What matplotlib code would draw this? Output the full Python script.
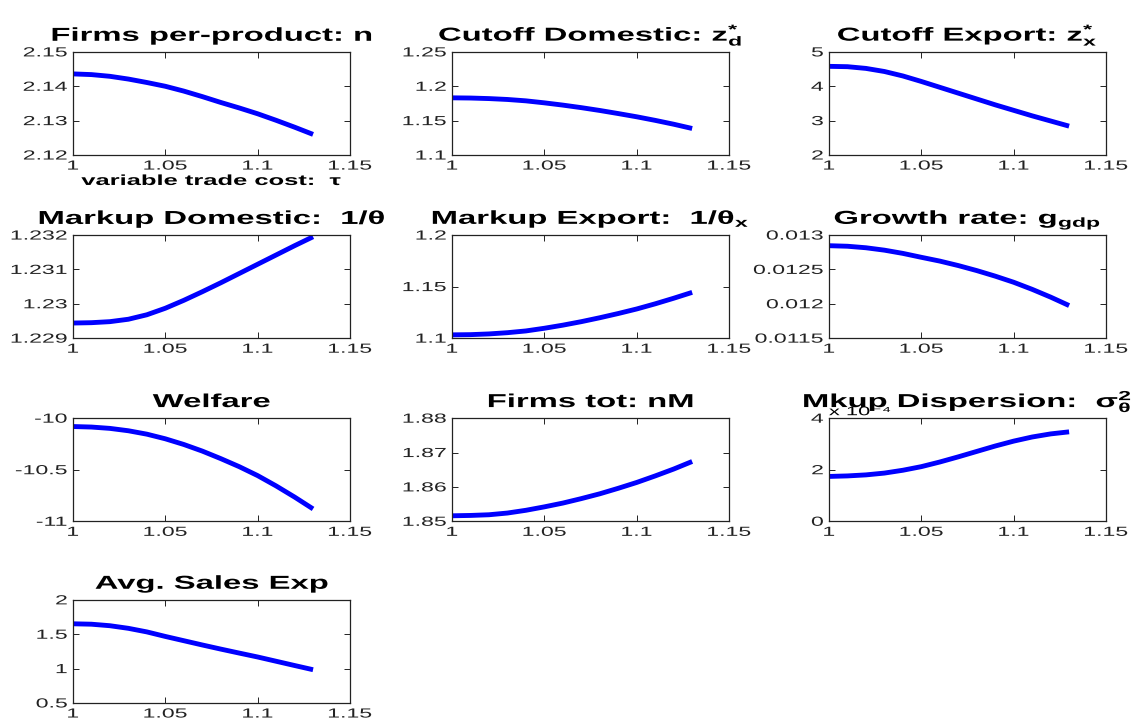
import matplotlib
matplotlib.use("Agg")
import matplotlib.pyplot as plt
from matplotlib import patheffects
from matplotlib.transforms import Affine2D
from matplotlib.ticker import FuncFormatter

plt.rcParams['font.family'] = ['Liberation Sans', 'DejaVu Sans']
plt.rcParams['mathtext.fontset'] = 'custom'
plt.rcParams['mathtext.rm'] = 'Liberation Sans:bold'
plt.rcParams['mathtext.it'] = 'Liberation Sans:bold'
plt.rcParams['mathtext.bf'] = 'Liberation Sans:bold'
plt.rcParams['mathtext.default'] = 'rm'

# variable trade cost
tau = [1.00, 1.01, 1.02, 1.03, 1.04, 1.05, 1.06, 1.07, 1.08, 1.09, 1.10, 1.11, 1.12, 1.13]

n_firms = [2.1436, 2.1434, 2.1429, 2.1421, 2.1411, 2.1400, 2.1386, 2.1370, 2.1353, 2.1337,
           2.1320, 2.1301, 2.1281, 2.1260]
cutoff_dom = [1.1832, 1.1829, 1.1821, 1.1808, 1.1788, 1.1759, 1.1726, 1.1689, 1.1648, 1.1603,
              1.1556, 1.1504, 1.1448, 1.1386]
cutoff_exp = [4.58, 4.57, 4.52, 4.43, 4.30, 4.14, 3.97, 3.80, 3.63, 3.46, 3.30, 3.14, 2.99, 2.84]
markup_dom = [1.22944, 1.22945, 1.22948, 1.22955, 1.22968, 1.22987, 1.23010, 1.23035, 1.23061,
              1.23088, 1.23115, 1.23142, 1.23169, 1.23195]
markup_exp = [1.1032, 1.1034, 1.1041, 1.1053, 1.1070, 1.1096, 1.1126, 1.1160, 1.1198, 1.1239,
              1.1283, 1.1333, 1.1387, 1.1444]
growth = [0.012845, 0.012837, 0.012815, 0.012780, 0.012733, 0.012676, 0.012621, 0.012556,
          0.012483, 0.012402, 0.012313, 0.012210, 0.012097, 0.011974]
welfare = [-10.081, -10.086, -10.099, -10.122, -10.155, -10.200, -10.255, -10.319, -10.392,
           -10.470, -10.557, -10.657, -10.765, -10.880]
firms_tot = [1.8516, 1.8517, 1.8519, 1.8524, 1.8532, 1.8542, 1.8553, 1.8566, 1.8580, 1.8596,
             1.8613, 1.8632, 1.8652, 1.8674]
mkup_disp = [1.74e-4, 1.76e-4, 1.80e-4, 1.87e-4, 1.98e-4, 2.12e-4, 2.30e-4, 2.50e-4, 2.71e-4,
             2.92e-4, 3.11e-4, 3.27e-4, 3.39e-4, 3.47e-4]
sales_exp = [1.652, 1.646, 1.624, 1.586, 1.534, 1.468, 1.406, 1.344, 1.284, 1.226, 1.169,
             1.107, 1.045, 0.984]

x_ticks = [1, 1.05, 1.1, 1.15]
x_labels = ["1", "1.05", "1.1", "1.15"]

SX = 1.75  # the original figure is stretched sideways


class Stretch(patheffects.AbstractPathEffect):
    """Widen glyphs horizontally about a fixed anchor."""

    def __init__(self, sx=SX, anchor="center"):
        super().__init__()
        self.sx = sx
        self.anchor = anchor

    def draw_path(self, renderer, gc, tpath, affine, rgbFace=None):
        ext = tpath.get_extents()
        if self.anchor == "left":
            x0 = ext.x0
        elif self.anchor == "right":
            x0 = ext.x1
        else:
            x0 = (ext.x0 + ext.x1) / 2
        tr = Affine2D().translate(-x0, 0).scale(self.sx, 1).translate(x0, 0) + affine
        renderer.draw_path(gc, tpath, tr, rgbFace)


panels = [
    ("Firms per-product: n", n_firms, (2.12, 2.15), [2.12, 2.13, 2.14, 2.15]),
    (r"Cutoff Domestic: $z^{*}_{d}$", cutoff_dom, (1.1, 1.25), [1.1, 1.15, 1.2, 1.25]),
    (r"Cutoff Export: $z^{*}_{x}$", cutoff_exp, (2, 5), [2, 3, 4, 5]),
    ("Markup Domestic:  1/θ", markup_dom, (1.229, 1.232), [1.229, 1.23, 1.231, 1.232]),
    (r"Markup Export:  1/θ$_{x}$", markup_exp, (1.1, 1.2), [1.1, 1.15, 1.2]),
    (r"Growth rate: $g_{gdp}$", growth, (0.0115, 0.013), [0.0115, 0.012, 0.0125, 0.013]),
    ("Welfare", welfare, (-11, -10), [-11, -10.5, -10]),
    ("Firms tot: nM", firms_tot, (1.85, 1.88), [1.85, 1.86, 1.87, 1.88]),
    (r"Mkup Dispersion:  $\sigma^{2}_{\theta}$", mkup_disp, (0, 4e-4), [0, 2e-4, 4e-4]),
    ("Avg. Sales Exp", sales_exp, (0.5, 2), [0.5, 1, 1.5, 2]),
]

lefts = [0.0644, 0.399, 0.7317]
bottoms = [0.785, 0.531, 0.277, 0.025]
w, h = 0.2445, 0.143

fig = plt.figure(figsize=(11.33, 7.21), dpi=100)

for i, (title, vals, ylim, yticks) in enumerate(panels):
    ax = fig.add_axes([lefts[i % 3], bottoms[i // 3], w, h])
    ax.plot(tau, vals, color="#0000ff", lw=3.5, solid_capstyle="butt")
    ax.set_xlim(1, 1.15)
    ax.set_ylim(*ylim)
    ax.set_xticks(x_ticks)
    ax.set_xticklabels(x_labels)
    ax.set_yticks(yticks)
    if i == 8:
        ax.yaxis.set_major_formatter(FuncFormatter(lambda v, _: f"{v * 1e4:g}"))
        t = ax.text(0.0, 1.0, "x 10⁻⁴", transform=ax.transAxes, fontsize=9,
                    ha="left", va="bottom")
        t.set_path_effects([Stretch(SX, "left")])
    else:
        ax.yaxis.set_major_formatter(FuncFormatter(lambda v, _: f"{v:g}"))
    ax.tick_params(direction="in", length=4, width=0.7, top=True, right=True,
                   labelsize=9.5, pad=4, colors="#222222")
    for s in ax.spines.values():
        s.set_linewidth(0.9)
        s.set_color("#222222")
    for lab in ax.get_xticklabels():
        lab.set_path_effects([Stretch(SX, "center")])
    for lab in ax.get_yticklabels():
        lab.set_path_effects([Stretch(SX, "right")])
    ttl = ax.set_title(title, fontsize=13.5, fontweight="bold", pad=8)
    ttl.set_path_effects([Stretch(SX, "center")])
    if i == 0:
        xl = ax.set_xlabel("variable trade cost:  τ", fontsize=10.5, fontweight="bold",
                           labelpad=1)
        xl.set_path_effects([Stretch(SX, "center")])

fig.savefig("out.png", dpi=100)
